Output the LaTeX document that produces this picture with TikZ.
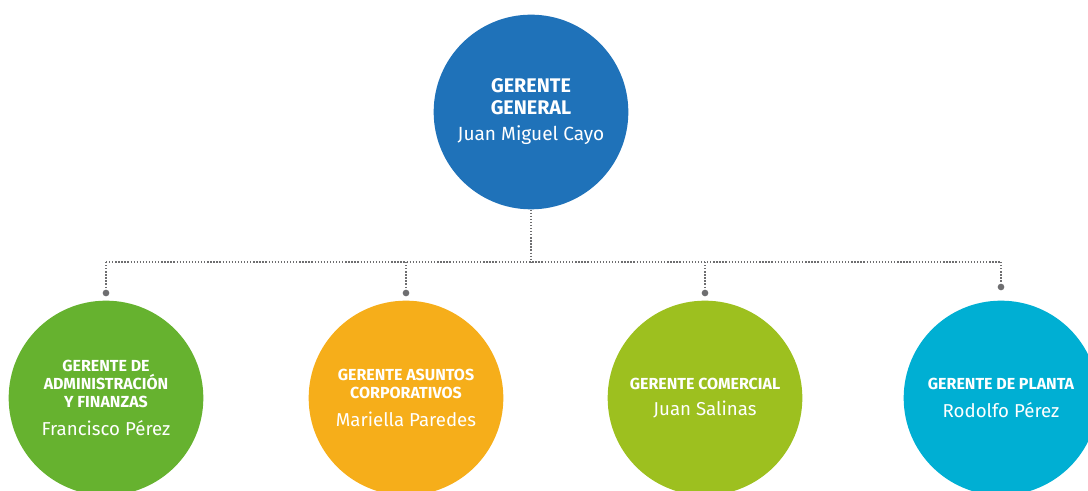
\documentclass[tikz,border=0pt]{standalone}
\usepackage{fontspec}
\setmainfont{Fira Sans}
\usepackage{tikz}
\usetikzlibrary{positioning,calc}
\definecolor{azul}{RGB}{31,114,185}
\definecolor{verde}{RGB}{102,178,47}
\definecolor{naranja}{RGB}{246,174,26}
\definecolor{lima}{RGB}{157,192,31}
\definecolor{celeste}{RGB}{0,175,211}
\definecolor{gris}{RGB}{110,110,112}

\begin{document}
\begin{tikzpicture}[x=0.75pt, y=-0.75pt,
  cargo/.style={circle, minimum size=146pt, inner sep=0pt, text=white, align=center},
  jefe/.style={cargo, font=\fontsize{14.8}{16.5}\selectfont\bfseries},
  gerente/.style={cargo, font=\fontsize{12}{13.3}\selectfont\bfseries},
  punto/.style={circle, fill=gris, minimum size=5pt, inner sep=0pt},
  linea/.style={draw=gris, line width=1pt, dash pattern=on 1pt off 1.3pt}]
\useasboundingbox (0,0) rectangle (1088,491);
\clip (0,0) rectangle (1088,491);
% gerencia general
\node[jefe, fill=azul] (general) at (531,112)
  {GERENTE\\GENERAL\\[3pt]{\mdseries\fontsize{14.3}{16}\selectfont Juan Miguel Cayo}};
% gerencias
\node[gerente, fill=verde] (admin) at (106,398)
  {GERENTE DE\\ADMINISTRACIÓN\\Y FINANZAS\\[7.5pt]{\mdseries\fontsize{14}{16}\selectfont Francisco Pérez}};
\node[gerente, fill=naranja] (asuntos) at (406,398)
  {GERENTE ASUNTOS\\CORPORATIVOS\\[7.5pt]{\mdseries\fontsize{14}{16}\selectfont Mariella Paredes}};
\node[gerente, fill=lima] (comercial) at (705,398)
  {GERENTE COMERCIAL\\[6.5pt]{\mdseries\fontsize{14}{16}\selectfont Juan Salinas}};
\node[gerente, fill=celeste] (planta) at (1001,398)
  {GERENTE DE PLANTA\\[7.5pt]{\mdseries\fontsize{14}{16}\selectfont Rodolfo Pérez}};
% puntos de union
\node[punto] (pa) at (106,293) {};
\node[punto] (pb) at (406,293) {};
\node[punto] (pc) at (705,293) {};
\node[punto] (pd) at (1001,287) {};
\coordinate (barra) at (531,262);
\draw[linea] (general.south) -- (barra);
\draw[linea] (pa |- barra) -- (pd |- barra);
\draw[linea] (pa |- barra) -- (pa);
\draw[linea] (pb |- barra) -- (pb);
\draw[linea] (pc |- barra) -- (pc);
\draw[linea] (pd |- barra) -- (pd);
\end{tikzpicture}
\end{document}
